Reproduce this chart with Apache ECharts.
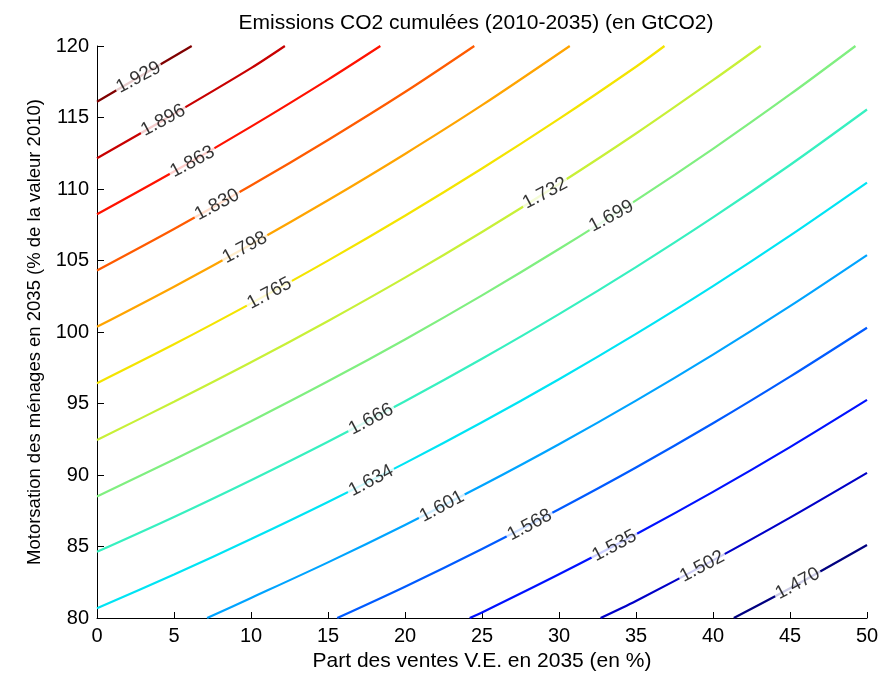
<!DOCTYPE html>
<html>
<head>
<meta charset="utf-8">
<title>Emissions CO2 cumulées</title>
<script src="https://cdn.jsdelivr.net/npm/echarts@6/dist/echarts.min.js"></script>
<style>
  html, body { margin: 0; padding: 0; background: #fff; }
  #chart { width: 885px; height: 678px; }
</style>
</head>
<body>
<div id="chart"></div>
<script>
// niveaux des isolignes (GtCO2), du plus bas au plus haut
const levels = ['1.470', '1.502', '1.535', '1.568', '1.601', '1.634', '1.666',
  '1.699', '1.732', '1.765', '1.798', '1.830', '1.863', '1.896', '1.929'];

// points [part VE %, motorisation %]
const c1470 = [[41.35, 80], [45, 82.08], [50, 85.11]];
const c1502 = [[32.7, 80], [35, 81.19], [40, 84.03], [45, 87.02], [50, 90.15]];
const c1535 = [[24.2, 80], [25, 80.39], [30, 83.06], [35, 85.86], [40, 88.82], [45, 91.95], [50, 95.25]];
const c1568 = [[15.6, 80], [20, 82.19], [25, 84.83], [30, 87.61], [35, 90.53], [40, 93.62], [45, 96.88], [50, 100.3]];
const c1601 = [[7.15, 80], [10, 81.4], [15, 83.89], [20, 86.51], [25, 89.26], [30, 92.15], [35, 95.2], [40, 98.42], [45, 101.81], [50, 105.38]];
const c1634 = [[0, 80.68], [5, 83.04], [10, 85.52], [15, 88.11], [20, 90.83], [25, 93.69], [30, 96.7], [35, 99.87], [40, 103.21], [45, 106.74], [50, 110.45]];
const c1666 = [[0, 84.63], [5, 87.07], [10, 89.64], [15, 92.33], [20, 95.16], [25, 98.13], [30, 101.25], [35, 104.54], [40, 108.01], [45, 111.68], [50, 115.56]];
const c1699 = [[0, 88.5], [5, 91.09], [10, 93.76], [15, 96.55], [20, 99.48], [25, 102.56], [30, 105.8], [35, 109.21], [40, 112.81], [45, 116.61], [49.25, 120]];
const c1732 = [[0, 92.45], [5, 95.12], [10, 97.88], [15, 100.77], [20, 103.8], [25, 106.99], [30, 110.35], [35, 113.88], [40, 117.61], [43.1, 120]];
const c1765 = [[0, 96.42], [5, 99.14], [10, 102.0], [15, 104.99], [20, 108.13], [25, 111.43], [30, 114.9], [35, 118.55], [36.85, 120]];
const c1798 = [[0, 100.36], [5, 103.17], [10, 106.12], [15, 109.21], [20, 112.45], [25, 115.86], [30.7, 120]];
const c1830 = [[0, 104.3], [5, 107.2], [10, 110.24], [15, 113.43], [20, 116.78], [24.5, 120]];
const c1863 = [[0, 108.23], [5, 111.22], [10, 114.36], [15, 117.65], [18.4, 120]];
const c1896 = [[0, 112.15], [5, 115.25], [10, 118.45], [12.2, 120]];
const c1929 = [[0, 116.1], [6.15, 120]];

// position des étiquettes sur chaque isoligne
const labelAt = [[45.5, 82.4], [39.3, 83.6], [33.6, 85.05], [28.1, 86.5], [22.4, 87.8],
  [17.8, 89.6], [17.8, 93.9], [33.4, 108.1], [29.1, 109.7], [11.2, 102.7],
  [9.6, 105.9], [7.8, 108.9], [6.2, 111.9], [4.3, 114.8], [2.7, 117.8]];

// ticks des axes
const xTicks = [0, 50, 5];
const yTicks = [80, 120, 5];

const curves = [c1470, c1502, c1535, c1568, c1601, c1634, c1666, c1699,
  c1732, c1765, c1798, c1830, c1863, c1896, c1929];

// palette "jet" de matlab
const jet = ['#000080', '#0000c8', '#0012ff', '#005bff', '#00a4ff', '#00e4f4', '#37f0c0',
  '#80ef80', '#c8f037', '#f4e400', '#ffa400', '#ff5b00', '#ff1200', '#c80000', '#800000'];

const font = 'Liberation Sans, Arial, sans-serif';

const series = curves.map((pts, i) => ({
  name: levels[i],
  type: 'line',
  data: pts,
  smooth: 0.3,
  showSymbol: false,
  silent: true,
  clip: true,
  lineStyle: { color: jet[i], width: 2.2 },
  z: 2
}));

series.push({
  type: 'scatter',
  silent: true,
  symbolSize: 1,
  itemStyle: { color: 'rgba(0,0,0,0)' },
  z: 5,
  data: labelAt.map((p, i) => ({ value: p, name: levels[i] })),
  label: {
    show: true,
    position: 'inside',
    formatter: '{b}',
    rotate: 28,
    fontFamily: font,
    fontSize: 19,
    color: '#000',
    backgroundColor: '#fff',
    padding: [0, 2]
  }
});

const chart = echarts.init(document.getElementById('chart'));
chart.setOption({
  animation: false,
  backgroundColor: '#fff',
  title: {
    text: 'Emissions CO2 cumulées (2010-2035) (en GtCO2)',
    left: 476,
    top: 13,
    padding: 0,
    textAlign: 'center',
    textStyle: { fontFamily: font, fontSize: 21, fontWeight: 'normal', color: '#000' }
  },
  grid: { left: 97, right: 18, top: 46, bottom: 60 },
  xAxis: {
    type: 'value',
    min: xTicks[0],
    max: xTicks[1],
    interval: xTicks[2],
    name: 'Part des ventes V.E. en 2035 (en %)',
    nameLocation: 'middle',
    nameGap: 30,
    nameTextStyle: { fontFamily: font, fontSize: 21, color: '#000' },
    axisLine: { lineStyle: { color: '#000', width: 1 } },
    axisTick: { inside: true, length: 6, lineStyle: { color: '#000' } },
    axisLabel: { fontFamily: font, fontSize: 20, color: '#000', margin: 8 },
    splitLine: { show: false }
  },
  yAxis: {
    type: 'value',
    min: yTicks[0],
    max: yTicks[1],
    interval: yTicks[2],
    name: 'Motorsation des ménages en 2035 (% de la valeur 2010)',
    nameLocation: 'middle',
    nameGap: 53,
    nameTextStyle: { fontFamily: font, fontSize: 18.5, color: '#000' },
    axisLine: { show: true, lineStyle: { color: '#000', width: 1 } },
    axisTick: { show: true, inside: true, length: 7, lineStyle: { color: '#000' } },
    axisLabel: { fontFamily: font, fontSize: 20, color: '#000', margin: 8 },
    splitLine: { show: false }
  },
  series: series
});
</script>
</body>
</html>
